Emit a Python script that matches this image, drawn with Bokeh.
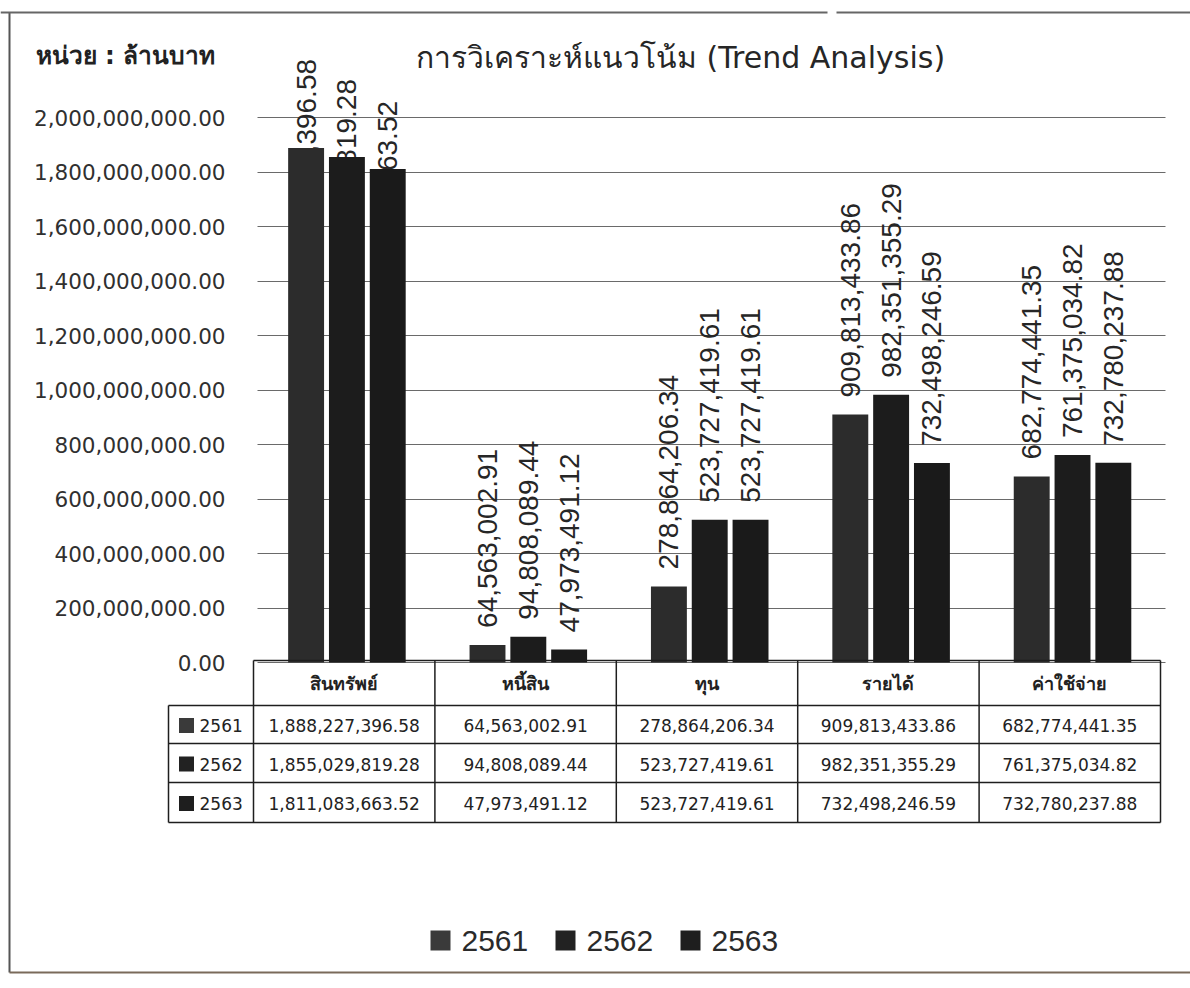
import math
from bokeh.plotting import figure
from bokeh.models import Range1d, FixedTicker, NumeralTickFormatter, Label, ColumnDataSource
from bokeh.transform import dodge
from bokeh.embed import file_html
from bokeh.resources import INLINE
from bokeh.core.properties import value

# ---------------- data ----------------
categories = ["สินทรัพย์", "หนี้สิน", "ทุน", "รายได้", "ค่าใช้จ่าย"]
years = ["2561", "2562", "2563"]
v2561 = [1888227396.58, 64563002.91, 278864206.34, 909813433.86, 682774441.35]
v2562 = [1855029819.28, 94808089.44, 523727419.61, 982351355.29, 761375034.82]
v2563 = [1811083663.52, 47973491.12, 523727419.61, 732498246.59, 732780237.88]
y_ticks = [0, 200e6, 400e6, 600e6, 800e6, 1000e6, 1200e6, 1400e6, 1600e6, 1800e6, 2000e6]
unit_label = "หน่วย : ล้านบาท"
title_text = "การวิเคราะห์แนวโน้ม (Trend Analysis)"

# ---------------- layout / style ----------------
W, H = 1190, 984
PLOT_L = 253            # px, left edge of the category area
PX_PER_UNIT = 907 / len(categories)
BASE_Y = 662            # px, zero line
PX_PER_VAL = 545 / 2000e6

bar_colors = ["#2c2c2c", "#1c1c1c", "#1a1a1a"]
legend_colors = ["#3a3a3a", "#222222", "#1e1e1e"]
offsets = [-0.21, 0.015, 0.24]
BAR_W = 0.198
series = [v2561, v2562, v2563]
overflow_shift = [89, 78, 68]   # px: labels that would run off the top are pulled down

def fmt(v):
    return f"{v:,.2f}"

def px2x(px):
    return (px - PLOT_L) / PX_PER_UNIT

def py2v(py):
    return (BASE_Y - py) / PX_PER_VAL

def py2t(py):
    return py - BASE_Y

p = figure(width=W, height=H,
           x_range=Range1d(px2x(0), px2x(W)), y_range=Range1d(py2v(H), py2v(0)),
           output_backend="svg", toolbar_location=None, x_axis_location=None,
           min_border=0)
p.extra_y_ranges = {"tbl": Range1d(py2t(H), py2t(0))}
p.outline_line_color = None
p.xgrid.grid_line_color = None

ax = p.yaxis[0]
ax.fixed_location = 0
ax.ticker = FixedTicker(ticks=y_ticks)
ax.formatter = NumeralTickFormatter(format="0,0.00")
ax.axis_line_color = None
ax.major_tick_line_color = None
ax.minor_tick_line_color = None
ax.major_tick_out = 0
ax.major_tick_in = 0
ax.major_label_standoff = 28
ax.major_label_text_font = "DejaVu Sans"
ax.major_label_text_font_size = "21.5px"
ax.major_label_text_color = "#303030"
g = p.ygrid[0]
g.grid_line_color = "#6a6a6a"
g.grid_line_width = 1
try:
    g.cross_bounds = (px2x(257), px2x(1165))
except Exception:
    pass

xc = [i + 0.5 for i in range(len(categories))]
font_lab = value("Liberation Sans")
# value labels first, bars afterwards (bars hide any part of a label that overlaps them)
for j, y in enumerate(years):
    vals = series[j]
    normal = [i for i, v in enumerate(vals) if v < 1.5e9]
    over = [i for i, v in enumerate(vals) if v >= 1.5e9]
    s_norm = ColumnDataSource(dict(x=[xc[i] for i in normal], y=[vals[i] for i in normal],
                                   t=[fmt(vals[i]) for i in normal]))
    p.text(x=dodge("x", offsets[j], range=p.x_range), y="y", text="t", source=s_norm,
           angle=math.pi / 2, text_align="left", text_baseline="middle", y_offset=-17,
           text_font=font_lab, text_font_size="28px", text_color="#262626")
    s_over = ColumnDataSource(dict(x=[xc[i] for i in over], y=[vals[i] for i in over],
                                   t=[fmt(vals[i]) for i in over]))
    p.text(x=dodge("x", offsets[j], range=p.x_range), y="y", text="t", source=s_over,
           angle=math.pi / 2, text_align="right", text_baseline="middle", y_offset=-overflow_shift[j],
           text_font=font_lab, text_font_size="28px", text_color="#262626")

src = ColumnDataSource(dict(xc=xc, v2561=v2561, v2562=v2562, v2563=v2563))
for j, y in enumerate(years):
    p.vbar(x=dodge("xc", offsets[j], range=p.x_range), top="v" + y, width=BAR_W, source=src,
           fill_color=bar_colors[j], line_color=None)

p.add_layout(Label(x=px2x(35), y=py2v(55), text=unit_label, text_align="left", text_baseline="middle",
                   text_font="DejaVu Sans", text_font_size="24.5px", text_color="#222222", text_font_style="bold"))
p.add_layout(Label(x=px2x(680), y=py2v(57), text=title_text, text_align="center", text_baseline="middle",
                   text_font="DejaVu Sans", text_font_size="30px", text_color="#262626"))

# ---------------- data table under the chart ----------------
n = len(categories)
leg_x = px2x(168)
row_edges = [py2t(660), py2t(705), py2t(743), py2t(782), py2t(822)]
sx0, sx1, sy0, sy1 = [0], [n], [row_edges[0]], [row_edges[0]]
for r in row_edges[1:]:
    sx0.append(leg_x); sx1.append(n); sy0.append(r); sy1.append(r)
sx0.append(leg_x); sx1.append(leg_x); sy0.append(row_edges[1]); sy1.append(row_edges[-1])
for i in range(n + 1):
    sx0.append(i); sx1.append(i); sy0.append(row_edges[0]); sy1.append(row_edges[-1])
p.segment(x0=sx0, y0=sy0, x1=sx1, y1=sy1, line_color="#1e1e1e", line_width=1.5, y_range_name="tbl")

hdr_y = (row_edges[0] + row_edges[1]) / 2
p.text(x=xc, y=[hdr_y] * n, text=categories, text_align="center", text_baseline="middle",
       text_font=value("DejaVu Sans"), text_font_size="18px", text_font_style="bold",
       text_color="#222222", y_range_name="tbl")
for j, y in enumerate(years):
    ry = (row_edges[j + 1] + row_edges[j + 2]) / 2 + 1
    p.text(x=xc, y=[ry] * n, text=[fmt(v) for v in series[j]], text_align="center", text_baseline="middle",
           text_font=value("DejaVu Sans"), text_font_size="17px", text_color="#222222", y_range_name="tbl")
    p.scatter(x=[px2x(186)], y=[ry], marker="square", size=15, fill_color=legend_colors[j],
              line_color=None, y_range_name="tbl")
    p.text(x=[px2x(199)], y=[ry], text=[y], text_align="left", text_baseline="middle",
           text_font=value("DejaVu Sans"), text_font_size="17px", text_color="#222222", y_range_name="tbl")

# ---------------- legend ----------------
leg_y = py2t(940)
leg_sq = [440, 565, 690]
for j, y in enumerate(years):
    p.scatter(x=[px2x(leg_sq[j])], y=[leg_y], marker="square", size=20, fill_color=legend_colors[j],
              line_color=None, y_range_name="tbl")
    p.text(x=[px2x(leg_sq[j] + 21)], y=[leg_y], text=[y], text_align="left", text_baseline="middle",
           text_font=value("Liberation Sans"), text_font_size="30px", text_color="#2a2a2a", y_range_name="tbl")

# ---------------- scanned page frame ----------------
p.segment(x0=[px2x(9), px2x(0), px2x(836), px2x(9)],
          y0=[py2t(12), py2t(12), py2t(12), py2t(972)],
          x1=[px2x(9), px2x(827), px2x(W), px2x(W)],
          y1=[py2t(972), py2t(12), py2t(12), py2t(972)],
          line_color=["#555555", "#666666", "#666666", "#7a6a5a"], line_width=2, y_range_name="tbl")

open("out.html", "w").write(file_html(p, INLINE))
